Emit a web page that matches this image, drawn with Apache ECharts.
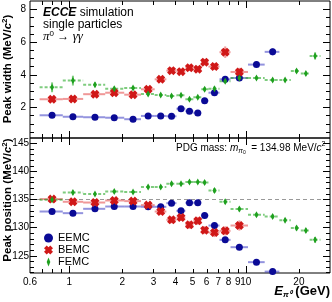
<!DOCTYPE html>
<html><head><meta charset="utf-8">
<script src="https://cdn.jsdelivr.net/npm/echarts@6.0.0/dist/echarts.min.js"></script>
<style>html,body{margin:0;padding:0;background:#fff;}#chart{width:332px;height:302px;}</style>
</head><body><div id="chart"></div>
<script>
// ---- data ----
const energies = [0.8,1.05,1.4,1.8,2.3,2.8,3.3,3.8,4.3,4.8,5.35,5.85,6.65,7.65,9.2,11.5,14.2,16.7,19.4,21.9,24.7];
const binLo = [0.68,0.92,1.2,1.6,2.05,2.55,3.05,3.55,4.05,4.55,5.05,5.6,6.15,7.1,8.2,10.3,12.8,15.5,18.0,20.5,23.0];
const binHi = [0.92,1.2,1.6,2.05,2.55,3.05,3.55,4.05,4.55,5.05,5.6,6.15,7.1,8.2,10.3,12.8,15.5,18.0,20.5,23.0,26.5];

const widthEEMC = [1.51,1.42,1.39,1.36,1.27,1.47,1.47,1.45,1.91,1.76,1.65,2.40,2.89,3.71,3.79,4.61,5.39];
const widthBEMC = [2.49,2.51,2.80,2.89,2.77,3.10,3.71,4.24,4.18,4.42,4.33,4.76,4.49,5.37,4.16];
const widthFEMC = [3.22,3.63,3.38,3.14,3.18,2.81,2.75,2.69,2.73,2.49,2.61,3.10,3.14,3.59,3.79,3.79,3.67,3.67,4.22,4.06,5.14];
const widthErrEEMC = [0.05,0.05,0.05,0.05,0.05,0.05,0.05,0.05,0.06,0.06,0.06,0.08,0.10,0.12,0.12,0.15,0.22];
const widthErrBEMC = [0.10,0.10,0.12,0.12,0.12,0.15,0.15,0.18,0.15,0.18,0.20,0.20,0.20,0.35,0.25];
const widthErrFEMC = [0.30,0.30,0.15,0.12,0.12,0.10,0.10,0.10,0.10,0.10,0.10,0.12,0.12,0.12,0.12,0.10,0.10,0.10,0.12,0.12,0.22];

const posEEMC = [132.83,132.54,133.31,133.72,133.72,133.67,133.67,134.32,132.95,134.38,134.38,132.12,130.34,127.79,126.49,123.83,122.15];
const posBEMC = [135.04,134.56,134.43,134.79,134.68,133.97,132.83,131.35,131.76,130.46,131.17,129.52,129.09,129.39,130.34];
const posFEMC = [134.91,136.21,135.93,136.39,136.28,137.17,137.17,137.76,137.76,138.06,138.06,137.99,136.57,134.56,133.26,132.24,131.94,131.30,129.88,129.45,127.79];
const posErrEEMC = [0.20,0.20,0.20,0.20,0.20,0.20,0.20,0.25,0.25,0.30,0.30,0.30,0.35,0.40,0.40,0.45,0.50];
const posErrBEMC = [0.40,0.40,0.45,0.45,0.45,0.50,0.55,0.60,0.60,0.70,0.70,0.70,0.80,0.80,0.90];
const posErrFEMC = [0.40,0.35,0.30,0.30,0.30,0.30,0.30,0.30,0.30,0.30,0.30,0.35,0.45,0.40,0.40,0.35,0.35,0.35,0.40,0.40,0.50];

const pdgMass = 134.98;

const xTickMajor = [1, 10];
const xTickMinor = [0.7,0.8,0.9,2,3,4,5,6,7,8,9,20];
const xLabelVals = [0.6,1,2,3,4,5,6,7,8,9,10,20];
const xLabels = ['0.6','1','2','3','4','5','6','7','8','9','10','20'];
const widthTickMajor = [2,4,6,8];
const widthTickMinor = [0.5,1,1.5,2.5,3,3.5,4.5,5,5.5,6.5,7,7.5];
const posTickMajor = [125,130,135,140,145];
const posTickMinor = [122,123,124,126,127,128,129,131,132,133,134,136,137,138,139,141,142,143,144];

// ---- layout ----
const X_MIN = 0.6, X_MAX = 30;
const W_MIN = 0.12, W_MAX = 8.5;
const P_MIN = 121.9, P_MAX = 145.9;
const FONT = 'Liberation Sans';
const C_E = '#0a0a96', C_B = '#d01818', C_F = '#1ea01e';
const E_E = 'rgba(40,40,190,0.5)', E_B = 'rgba(225,50,50,0.5)', E_F = 'rgba(40,170,40,0.6)';
const XPATH = 'path://M0,3 L3,0 L5,2 L7,0 L10,3 L8,5 L10,7 L7,10 L5,8 L3,10 L0,7 L2,5 Z';
const DPATH = 'path://M2,0 L4,5 L2,10 L0,5 Z';

function pts(vals){ return vals.map((v,i)=>[energies[i], v]); }
function errs(vals, e){ return vals.map((v,i)=>[energies[i], v, binLo[i], binHi[i], e[i]]); }

function errRender(color, dash){
  return function(params, api){
    const x = api.value(0), y = api.value(1), lo = api.value(2), hi = api.value(3), e = api.value(4);
    const a = api.coord([lo, y]), b = api.coord([hi, y]);
    const c = api.coord([x, y - e]), d = api.coord([x, y + e]);
    return {type:'group', children:[
      {type:'line', shape:{x1:a[0], y1:a[1], x2:b[0], y2:b[1]}, style:{stroke:color, lineWidth:2, lineDash:dash}},
      {type:'line', shape:{x1:c[0], y1:c[1], x2:d[0], y2:d[1]}, style:{stroke:color, lineWidth:2}}
    ]};
  };
}

function decor(yMin, yMax, yMajor, yMinor, labelRight, showX){
  return function(params, api){
    const tl = api.coord([X_MIN, yMax]), br = api.coord([X_MAX, yMin]);
    const L = tl[0], T = tl[1], R = br[0], B = br[1];
    const ch = [];
    const ln = (x1,y1,x2,y2)=>ch.push({type:'line', shape:{x1,y1,x2,y2}, style:{stroke:'#000', lineWidth:1}});
    const px = v => Math.round(api.coord([v, yMin])[0]) + 0.5;
    const py = v => Math.round(api.coord([X_MIN, v])[1]) + 0.5;
    xTickMajor.forEach(v=>{ const x = px(v); ln(x,B,x,B-7); ln(x,T,x,T+7); });
    xTickMinor.forEach(v=>{ const x = px(v); ln(x,B,x,B-4); ln(x,T,x,T+4); });
    yMajor.forEach(v=>{ const y = py(v); ln(L,y,L+7,y); ln(R,y,R-7,y);
      ch.push({type:'text', x:labelRight, y:y, style:{text:String(v), align:'right', textAlign:'right',
        verticalAlign:'middle', textVerticalAlign:'middle', fontSize:10, fontFamily:FONT, fill:'#000'}});
    });
    yMinor.forEach(v=>{ const y = py(v); ln(L,y,L+4,y); ln(R,y,R-4,y); });
    if (showX) {
      xLabelVals.forEach((v,i)=>{
        const x = api.coord([v, yMin])[0];
        ch.push({type:'text', x:x, y:B+4, style:{text:xLabels[i], align:'center', textAlign:'center',
          verticalAlign:'top', textVerticalAlign:'top', fontSize:10, fontFamily:FONT, fill:'#000'}});
      });
    }
    return {type:'group', children:ch};
  };
}

const hiddenAxis = {axisLine:{show:false}, axisTick:{show:false}, axisLabel:{show:false}, splitLine:{show:false}};
const titleRich = {
  b:{fontSize:11.5, fontWeight:'bold', fontFamily:FONT, fill:'#000', lineHeight:14},
  i:{fontSize:11.5, fontWeight:'bold', fontStyle:'italic', fontFamily:FONT, fill:'#000', lineHeight:14},
  s:{fontSize:8, fontWeight:'bold', fontFamily:FONT, fill:'#000', verticalAlign:'top', lineHeight:9}
};

const option = {
  animation:false,
  backgroundColor:'#fff',
  grid:[
    {left:30, top:1, width:300, height:137, show:true, borderColor:'#000', borderWidth:1, backgroundColor:'transparent'},
    {left:30, top:138, width:300, height:135, show:true, borderColor:'#000', borderWidth:1, backgroundColor:'transparent'}
  ],
  xAxis:[
    Object.assign({gridIndex:0, type:'log', logBase:10, min:X_MIN, max:X_MAX}, hiddenAxis),
    Object.assign({gridIndex:1, type:'log', logBase:10, min:X_MIN, max:X_MAX}, hiddenAxis)
  ],
  yAxis:[
    Object.assign({gridIndex:0, type:'value', min:W_MIN, max:W_MAX}, hiddenAxis),
    Object.assign({gridIndex:1, type:'value', min:P_MIN, max:P_MAX}, hiddenAxis)
  ],
  legend:{
    left:44, top:232, orient:'vertical', padding:0, itemGap:0, itemWidth:9, itemHeight:9,
    textStyle:{fontSize:11, fontFamily:FONT, color:'#000', lineHeight:12},
    data:[
      {name:'EEMC', icon:'circle'},
      {name:'BEMC', icon:XPATH},
      {name:'FEMC', icon:DPATH}
    ]
  },
  graphic:[
    {type:'text', x:43, y:12.5, style:{text:'{b|ECCE} {n|simulation}', verticalAlign:'middle', textVerticalAlign:'middle', fill:'#000',
      rich:{b:{fontSize:12, fontWeight:'bold', fontStyle:'italic', fontFamily:FONT, fill:'#000'}, n:{fontSize:12, fontFamily:FONT, fill:'#000'}}}},
    {type:'text', x:43, y:25, style:{text:'single particles', verticalAlign:'middle', textVerticalAlign:'middle', fontSize:12, fontFamily:FONT, fill:'#000'}},
    {type:'text', x:43, y:37, style:{text:'{g|π}{s|0}{n| → }{g|γγ}', verticalAlign:'middle', textVerticalAlign:'middle', fill:'#000',
      rich:{g:{fontSize:13, fontStyle:'italic', fontFamily:'Liberation Serif', fill:'#000', lineHeight:14},
            s:{fontSize:8, fontFamily:FONT, fill:'#000', verticalAlign:'top', lineHeight:9},
            n:{fontSize:12, fontFamily:FONT, fill:'#000', lineHeight:14}}}},
    {type:'text', x:176, y:148, style:{text:'{n|PDG mass: }{i|m}{sub|π}{sup2|0}{n|  = 134.98 MeV/}{i|c}{sup|2}', verticalAlign:'middle', textVerticalAlign:'middle', fill:'#000',
      rich:{n:{fontSize:10, fontFamily:FONT, fill:'#000', lineHeight:14},
            i:{fontSize:10, fontStyle:'italic', fontFamily:FONT, fill:'#000', lineHeight:14},
            sub:{fontSize:7, fontStyle:'italic', fontFamily:FONT, fill:'#000', verticalAlign:'bottom', lineHeight:8},
            sup2:{fontSize:5, fontFamily:FONT, fill:'#000', verticalAlign:'bottom', lineHeight:10},
            sup:{fontSize:7, fontFamily:FONT, fill:'#000', verticalAlign:'top', lineHeight:8}}}},
    {type:'text', x:8, y:69, rotation:Math.PI/2, style:{text:'{b|Peak width (MeV/}{i|c}{s|2}{b|)}', align:'center', textAlign:'center', verticalAlign:'middle', textVerticalAlign:'middle', fill:'#000',
      rich:titleRich}},
    {type:'text', x:8, y:200, rotation:Math.PI/2, style:{text:'{b|Peak position (MeV/}{i|c}{s|2}{b|)}', align:'center', textAlign:'center', verticalAlign:'middle', textVerticalAlign:'middle', fill:'#000',
      rich:titleRich}},
    {type:'text', x:330, y:291, style:{text:'{e|E}{sub|π⁰}{b| (GeV)}', align:'right', textAlign:'right', verticalAlign:'middle', textVerticalAlign:'middle', fill:'#000',
      rich:{e:{fontSize:13, fontWeight:'bold', fontStyle:'italic', fontFamily:FONT, fill:'#000', lineHeight:16},
            sub:{fontSize:8, fontWeight:'bold', fontStyle:'italic', fontFamily:FONT, fill:'#000', verticalAlign:'bottom', lineHeight:9},
            b:{fontSize:13, fontWeight:'bold', fontFamily:FONT, fill:'#000', lineHeight:16}}}}
  ],
  series:[
    // axis decorations
    {type:'custom', name:'decorTop', xAxisIndex:0, yAxisIndex:0, silent:true, z:10, data:[[1,4]],
      renderItem:decor(W_MIN, W_MAX, widthTickMajor, widthTickMinor, 26, false)},
    {type:'custom', name:'decorBot', xAxisIndex:1, yAxisIndex:1, silent:true, z:10, data:[[1,130]],
      renderItem:decor(P_MIN, P_MAX, posTickMajor, posTickMinor, 29, true)},
    // error bars
    {type:'custom', name:'eE0', xAxisIndex:0, yAxisIndex:0, silent:true, z:2, encode:{x:0,y:1}, data:errs(widthEEMC, widthErrEEMC), renderItem:errRender(E_E, null)},
    {type:'custom', name:'eB0', xAxisIndex:0, yAxisIndex:0, silent:true, z:2, encode:{x:0,y:1}, data:errs(widthBEMC, widthErrBEMC), renderItem:errRender(E_B, null)},
    {type:'custom', name:'eF0', xAxisIndex:0, yAxisIndex:0, silent:true, z:2, encode:{x:0,y:1}, data:errs(widthFEMC, widthErrFEMC), renderItem:errRender(E_F, [3,2])},
    {type:'custom', name:'eE1', xAxisIndex:1, yAxisIndex:1, silent:true, z:2, encode:{x:0,y:1}, data:errs(posEEMC, posErrEEMC), renderItem:errRender(E_E, null)},
    {type:'custom', name:'eB1', xAxisIndex:1, yAxisIndex:1, silent:true, z:2, encode:{x:0,y:1}, data:errs(posBEMC, posErrBEMC), renderItem:errRender(E_B, null)},
    {type:'custom', name:'eF1', xAxisIndex:1, yAxisIndex:1, silent:true, z:2, encode:{x:0,y:1}, data:errs(posFEMC, posErrFEMC), renderItem:errRender(E_F, [3,2])},
    // markers
    {type:'scatter', name:'EEMC', xAxisIndex:0, yAxisIndex:0, z:5, symbol:'circle', symbolSize:7, itemStyle:{color:C_E, opacity:1}, data:pts(widthEEMC)},
    {type:'scatter', name:'BEMC', xAxisIndex:0, yAxisIndex:0, z:5, symbol:XPATH, symbolSize:9, itemStyle:{color:C_B, opacity:1}, data:pts(widthBEMC)},
    {type:'scatter', name:'FEMC', xAxisIndex:0, yAxisIndex:0, z:5, symbol:DPATH, symbolSize:[4,7], itemStyle:{color:C_F, opacity:1}, data:pts(widthFEMC)},
    {type:'scatter', name:'EEMC', xAxisIndex:1, yAxisIndex:1, z:5, symbol:'circle', symbolSize:7, itemStyle:{color:C_E, opacity:1}, data:pts(posEEMC)},
    {type:'scatter', name:'BEMC', xAxisIndex:1, yAxisIndex:1, z:5, symbol:XPATH, symbolSize:9, itemStyle:{color:C_B, opacity:1}, data:pts(posBEMC)},
    {type:'scatter', name:'FEMC', xAxisIndex:1, yAxisIndex:1, z:5, symbol:DPATH, symbolSize:[4,7], itemStyle:{color:C_F, opacity:1}, data:pts(posFEMC),
      markLine:{silent:true, symbol:['none','none'], label:{show:false}, z:1,
        lineStyle:{color:'#999', type:[4,3], width:1}, data:[{yAxis:pdgMass}]}}
  ]
};

const chart = echarts.init(document.getElementById('chart'), null, {renderer:'canvas'});
chart.setOption(option);
</script>
</body></html>
